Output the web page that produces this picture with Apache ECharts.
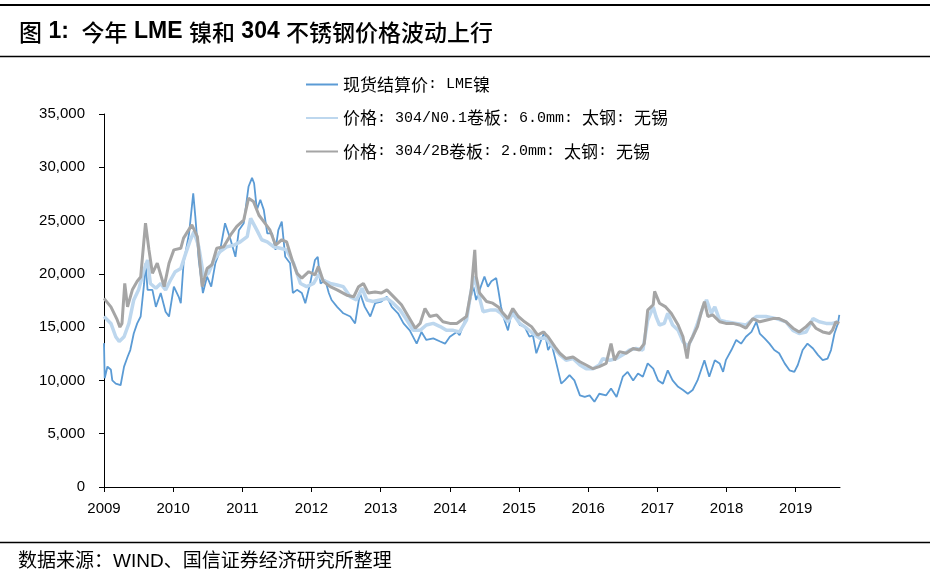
<!DOCTYPE html>
<html>
<head>
<meta charset="utf-8">
<script src="https://cdn.jsdelivr.net/npm/echarts@6/dist/echarts.min.js"></script>
<style>
html,body{margin:0;padding:0;background:#fff;}
#chart{width:930px;height:577px;}
</style>
</head>
<body>
<div id="chart"></div>
<script>
// ---- Data (x = decimal year, y = price) ----
const yearTicks = [2009,2010,2011,2012,2013,2014,2015,2016,2017,2018,2019];
const seriesNames = ['现货结算价: LME镍', '价格: 304/N0.1卷板: 6.0mm: 太钢: 无锡', '价格: 304/2B卷板: 2.0mm: 太钢: 无锡'];

const lmeYears = [2009.00,2009.01,2009.05,2009.10,2009.12,2009.17,2009.24,2009.29,2009.34,2009.38,2009.43,2009.48,2009.53,2009.58,2009.60,2009.63,2009.70,2009.75,2009.82,2009.89,2009.94,
2010.01,2010.08,2010.11,2010.15,2010.23,2010.29,2010.32,2010.37,2010.43,2010.49,2010.55,2010.61,2010.68,2010.75,2010.83,2010.90,2010.95,
2011.02,2011.09,2011.14,2011.17,2011.21,2011.26,2011.31,2011.36,2011.43,2011.48,2011.52,2011.57,2011.62,2011.69,2011.73,2011.79,2011.86,2011.91,2011.98,
2012.05,2012.09,2012.13,2012.20,2012.25,2012.29,2012.37,2012.46,2012.56,2012.63,2012.70,2012.77,2012.85,2012.92,
2013.01,2013.09,2013.16,2013.25,2013.33,2013.42,2013.52,2013.59,2013.66,2013.76,2013.86,2013.93,
2014.00,2014.10,2014.14,2014.22,2014.26,2014.34,2014.38,2014.43,2014.50,2014.55,2014.60,2014.67,2014.70,2014.74,2014.79,2014.84,2014.89,2014.94,
2015.01,2015.08,2015.15,2015.20,2015.25,2015.32,2015.37,2015.42,2015.47,2015.54,2015.61,2015.66,2015.73,2015.80,2015.88,2015.95,
2016.02,2016.09,2016.16,2016.26,2016.33,2016.41,2016.50,2016.57,2016.65,2016.72,2016.79,2016.86,2016.94,
2017.01,2017.08,2017.15,2017.22,2017.30,2017.37,2017.44,2017.51,2017.58,2017.68,2017.75,2017.83,2017.90,2017.95,2017.99,
2018.07,2018.14,2018.21,2018.28,2018.36,2018.43,2018.48,2018.55,2018.62,2018.69,2018.76,2018.84,2018.91,2018.98,
2019.03,2019.10,2019.17,2019.25,2019.32,2019.39,2019.46,2019.51,2019.56,2019.61,2019.63];
const lmeValues = [13500,10200,11300,11000,10000,9700,9550,11300,12200,12850,14400,15350,16000,19100,21000,18500,18500,16900,18200,16450,16000,
18800,17850,17250,21000,23800,27550,25400,21300,18200,19750,18800,21000,22250,24750,23200,21600,24100,
24750,28200,29000,28500,26000,26950,26000,23800,23800,22250,24100,24900,21600,21000,18200,18500,18200,17250,19100,
21300,21600,19100,19400,18200,17550,16900,16300,16000,15350,18200,16900,16000,17250,
17400,17850,16900,16300,15350,14700,13450,14550,13800,13950,13650,13450,
14100,14550,14250,15650,16600,18800,17550,18500,19750,18800,19300,19600,18500,16900,15650,14700,16300,16450,
15200,15050,14100,14250,12550,13800,14550,12850,13450,11600,9700,10000,10500,10000,8600,8450,
8600,8000,8750,8600,9250,8450,10350,10800,10000,10650,10350,11600,11100,
10000,9700,10950,10000,9400,9100,8750,9100,10000,11900,10350,11900,11600,10800,11900,
12850,13800,13450,14100,14550,15500,14400,13950,13450,12850,12550,11600,10950,10800,
11450,12850,13450,13000,12400,11900,12050,12850,14400,15350,16150];

const no1Years = [2009.00,2009.10,2009.17,2009.22,2009.29,2009.36,2009.43,2009.50,2009.58,2009.63,2009.67,2009.75,2009.82,2009.89,2009.96,
2010.03,2010.11,2010.18,2010.25,2010.30,2010.37,2010.44,2010.51,2010.59,2010.68,2010.78,2010.88,2010.97,
2011.07,2011.12,2011.21,2011.28,2011.36,2011.45,2011.55,2011.64,2011.74,2011.84,2011.93,
2012.03,2012.10,2012.17,2012.27,2012.37,2012.46,2012.56,2012.65,2012.73,2012.80,2012.89,2012.99,
2013.09,2013.18,2013.28,2013.38,2013.47,2013.57,2013.66,2013.76,2013.86,2013.95,
2014.05,2014.14,2014.24,2014.31,2014.36,2014.40,2014.48,2014.58,2014.67,2014.74,2014.84,2014.91,
2015.01,2015.11,2015.20,2015.30,2015.39,2015.49,2015.59,2015.68,2015.78,2015.88,2015.97,
2016.07,2016.16,2016.21,2016.31,2016.41,2016.50,2016.60,2016.69,2016.79,2016.86,2016.94,2016.98,
2017.03,2017.10,2017.15,2017.22,2017.30,2017.37,2017.44,2017.51,2017.58,2017.66,2017.71,2017.78,2017.83,2017.90,2017.99,
2018.14,2018.28,2018.43,2018.57,2018.72,2018.86,2018.96,
2019.05,2019.15,2019.25,2019.34,2019.44,2019.53,2019.61];
const no1Values = [16000,15350,14100,13650,14100,15350,17550,18500,20400,21300,19100,18650,19100,18500,19400,
20200,20500,21900,23200,23950,22550,19750,20050,21300,22100,22550,22700,23000,
23500,25200,24100,23200,23000,22550,22400,22250,21000,19100,18800,
19100,19900,19400,19100,18950,18800,17850,17550,18650,17550,17400,17550,
17700,17250,16600,15650,14700,14700,15200,15350,15050,14700,
14700,14550,15650,18500,19750,18500,16450,16600,16600,16300,15500,16300,
15350,14900,14400,13950,13950,13150,12400,11900,12050,11450,11100,
11100,11450,12050,11900,12050,12400,12850,13000,12850,15650,16900,16000,
15200,15350,16300,15200,14700,13650,13150,14100,15350,16900,17550,16300,16900,15650,15500,
15350,15200,16000,16000,15800,15500,14700,
14400,14550,15800,15500,15350,15350,15500];

const b2Years = [2009.00,2009.10,2009.19,2009.23,2009.26,2009.30,2009.34,2009.41,2009.48,2009.53,2009.60,2009.65,2009.70,2009.77,2009.87,2009.94,
2010.01,2010.11,2010.15,2010.27,2010.35,2010.42,2010.49,2010.56,2010.63,2010.73,2010.83,2010.92,
2011.02,2011.09,2011.16,2011.24,2011.31,2011.40,2011.48,2011.57,2011.64,2011.72,2011.79,2011.86,2011.96,
2012.05,2012.10,2012.17,2012.27,2012.37,2012.51,2012.61,2012.68,2012.75,2012.82,2012.92,
2013.01,2013.09,2013.21,2013.30,2013.40,2013.50,2013.57,2013.64,2013.71,2013.81,2013.90,
2014.00,2014.10,2014.24,2014.31,2014.36,2014.38,2014.43,2014.53,2014.62,2014.70,2014.77,2014.84,2014.91,2014.99,
2015.08,2015.18,2015.27,2015.35,2015.42,2015.52,2015.59,2015.68,2015.78,2015.88,2015.97,
2016.07,2016.16,2016.26,2016.33,2016.38,2016.45,2016.55,2016.65,2016.74,2016.81,2016.86,2016.94,2016.96,
2017.03,2017.12,2017.20,2017.30,2017.37,2017.43,2017.46,2017.51,2017.58,2017.63,2017.68,2017.73,2017.80,2017.90,2017.99,
2018.09,2018.19,2018.28,2018.38,2018.48,2018.57,2018.67,2018.76,2018.86,2018.96,
2019.05,2019.15,2019.22,2019.29,2019.39,2019.49,2019.53,2019.58,2019.63];
const b2Values = [17700,16900,15700,15000,15350,19100,16900,18500,19300,19700,24750,22250,20050,21000,18800,21000,
22250,22400,23350,24600,23500,18800,20500,20850,22400,22550,23650,24450,
25050,27100,26800,25500,24900,24100,22700,23200,23000,21300,20050,19600,20200,
19900,20700,19300,18800,18500,18000,17850,18800,19100,18200,18300,
18200,18500,17700,17100,16000,14900,15350,16750,16000,16150,15500,
15350,15350,16000,18500,22250,19750,18200,17400,17250,16900,16300,15800,16750,16000,
15500,15050,14250,14550,14100,13150,12550,12050,12200,11750,11450,
11100,11300,11600,13450,11900,12700,12550,13000,12850,13450,16600,17100,18350,
17250,16900,16300,15200,14100,12050,13450,14100,15050,16300,17400,16000,16150,15500,15350,
15350,15200,14900,15800,15500,15650,15800,15800,15500,14900,
14550,15050,15500,14900,14550,14400,14700,15500,15350];

function zip(xs, ys){ return xs.map((x,i)=>[x, ys[i]]); }

const CJK = /[\u3000-\u9fff\uff00-\uffef]/;
function richify(s){
  return s.replace(/[\u3000-\u9fff\uff00-\uffef]+|[^\u3000-\u9fff\uff00-\uffef]+/g,
    m => CJK.test(m) ? '{c|' + m + '}' : '{l|' + m + '}');
}

const titleText = '图 1:  今年 LME 镍和 304 不锈钢价格波动上行';
const sourceText = '数据来源：WIND、国信证券经济研究所整理';

const chart = echarts.init(document.getElementById('chart'), null, {renderer:'canvas'});
const option = {
  backgroundColor: '#fff',
  animation: false,
  title: {
    text: richify(titleText),
    left: 19, top: 17, padding: 0,
    textStyle: {
      rich: {
        c: {fontFamily: '"Noto Sans CJK SC"', fontSize: 23, fontWeight: 500, color: '#000', lineHeight: 30},
        l: {fontFamily: '"Liberation Sans"', fontSize: 23, fontWeight: 'bold', color: '#000', lineHeight: 30}
      }
    }
  },
  graphic: [
    {type:'line', shape:{x1:0,y1:5,x2:930,y2:5}, style:{stroke:'#000', lineWidth:2}},
    {type:'line', shape:{x1:0,y1:56.5,x2:930,y2:56.5}, style:{stroke:'#000', lineWidth:1.5}},
    {type:'line', shape:{x1:0,y1:542.5,x2:930,y2:542.5}, style:{stroke:'#000', lineWidth:1.3}},
    {type:'text', x:18, y:562, style:{text: sourceText, fill:'#000', font:'19px "Liberation Sans", "Noto Sans CJK SC"', verticalAlign:'middle'}}
  ],
  legend: {
    orient: 'vertical',
    left: 305, top: 76,
    itemWidth: 32, itemHeight: 14, itemGap: 16.5,
    padding: 0,
    data: seriesNames,
    itemStyle: {opacity: 0},
    formatter: name => richify(name),
    textStyle: {
      rich: {
        c: {fontFamily: '"Noto Sans CJK SC"', fontSize: 17, color: '#000', lineHeight: 18},
        l: {fontFamily: '"Liberation Mono"', fontSize: 15, color: '#000', lineHeight: 18}
      }
    }
  },
  grid: {left: 104, right: 90, top: 114, bottom: 90, containLabel: false},
  xAxis: {
    type: 'value',
    min: 2009, max: 2019.64,
    splitLine: {show:false},
    axisLine: {show:true, onZero:false, lineStyle:{color:'#000', width:1}},
    axisTick: {show:true, length:5, lineStyle:{color:'#000'}, customValues: yearTicks},
    axisLabel: {customValues: yearTicks, formatter: v => String(Math.round(v)), color:'#000',
      fontFamily:'"Liberation Sans"', fontSize:15, margin:14}
  },
  yAxis: {
    type: 'value',
    min: 0, max: 35000, interval: 5000,
    splitLine: {show:false},
    axisLine: {show:true, lineStyle:{color:'#000', width:1}},
    axisTick: {show:true, length:5, lineStyle:{color:'#000'}},
    axisLabel: {formatter: v => v.toLocaleString('en-US'), color:'#000',
      fontFamily:'"Liberation Sans"', fontSize:15, margin:19}
  },
  series: [
    {name: seriesNames[0], type:'line', data: zip(lmeYears, lmeValues), showSymbol:false, symbol:'none',
     lineStyle:{color:'#5B9BD5', width:1.8}, itemStyle:{color:'#5B9BD5'}},
    {name: seriesNames[1], type:'line', data: zip(no1Years, no1Values), showSymbol:false, symbol:'none',
     lineStyle:{color:'#BDD7EE', width:3.5}, itemStyle:{color:'#BDD7EE'}},
    {name: seriesNames[2], type:'line', data: zip(b2Years, b2Values), showSymbol:false, symbol:'none',
     lineStyle:{color:'#A5A5A5', width:3}, itemStyle:{color:'#A5A5A5'}}
  ]
};
chart.setOption(option);
</script>
</body>
</html>
